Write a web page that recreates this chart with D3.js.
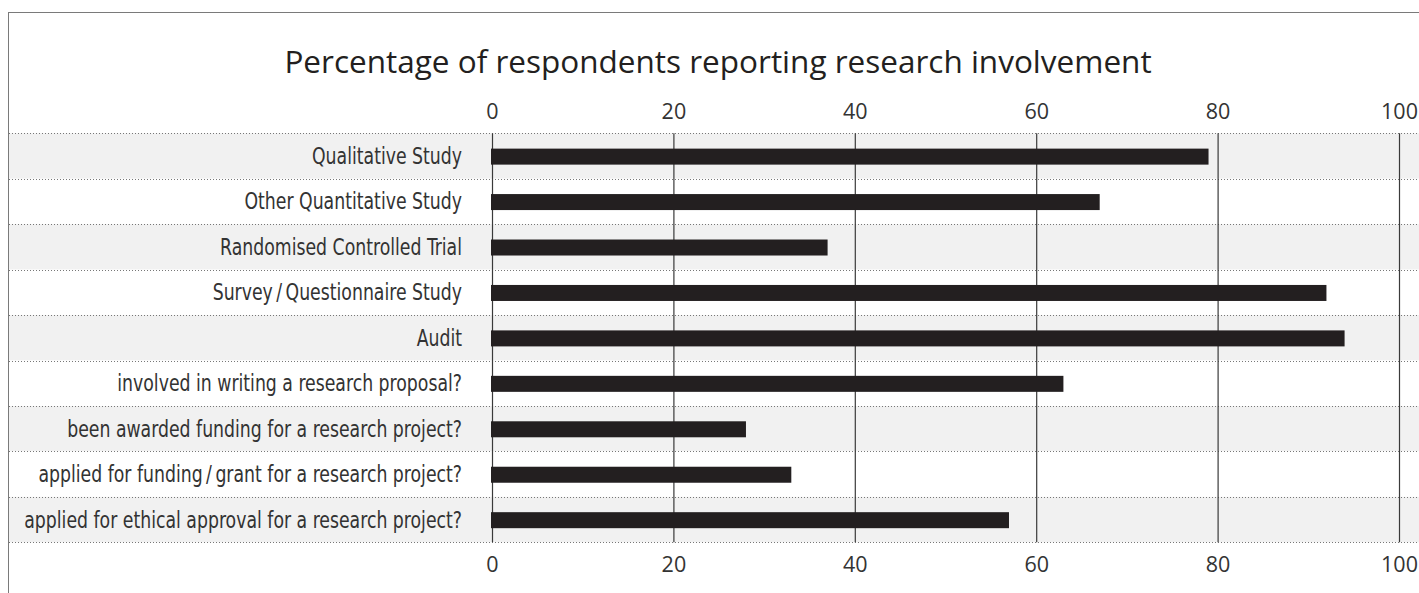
<!DOCTYPE html>
<html>
<head>
<meta charset="utf-8">
<script src="https://cdn.jsdelivr.net/npm/d3@7"></script>
<style>
  html, body { margin: 0; padding: 0; background: #ffffff; }
  svg { display: block; }
</style>
</head>
<body>
<svg id="chart" width="1419" height="593"></svg>
<script>
// Research involvement categories, top to bottom
const categories = [
  "Qualitative Study",
  "Other Quantitative Study",
  "Randomised Controlled Trial",
  "Survey\u2009/\u2009Questionnaire Study",
  "Audit",
  "involved in writing a research proposal?",
  "been awarded funding for a research project?",
  "applied for funding\u2009/\u2009grant for a research project?",
  "applied for ethical approval for a research project?"
];

// Percentage of respondents for each category
const percentages = [79, 67, 37, 92, 94, 63, 28, 33, 57];

// Axis tick values
const tickValues = [0, 20, 40, 60, 80, 100];

const titleText = "Percentage of respondents reporting research involvement";

const W = 1419, H = 593;
const frame = { left: 8, top: 12 };
const plot = { left: 492, right: 1399, top: 133.3, bottom: 542.3 };
const labelGap = 30;           // space between label end and the zero line
const longestLabelWidth = 438; // width the widest category label occupies

const ink = "#231f20";
const svg = d3.select("#chart");

// Outer frame
svg.append("rect")
  .attr("x", frame.left + 0.5).attr("y", frame.top + 0.5)
  .attr("width", W + 20).attr("height", H + 20)
  .attr("fill", "none").attr("stroke", "#7a7a7a").attr("stroke-width", 1);

const x = d3.scaleLinear().domain([0, 100]).range([plot.left, plot.right]);
const y = d3.scaleBand().domain(categories).range([plot.top, plot.bottom]).padding(0);

// Alternating row bands
svg.append("g").selectAll("rect")
  .data(categories)
  .join("rect")
  .attr("x", frame.left + 1)
  .attr("y", d => y(d))
  .attr("width", W - frame.left)
  .attr("height", y.bandwidth())
  .attr("fill", (d, i) => i % 2 === 0 ? "#f1f1f1" : "#ffffff");

// Dotted row separators
const edges = categories.map(d => y(d)).concat([plot.bottom]);
svg.append("g").selectAll("line")
  .data(edges)
  .join("line")
  .attr("x1", frame.left + 1).attr("x2", W)
  .attr("y1", d => Math.round(d) + 0.5).attr("y2", d => Math.round(d) + 0.5)
  .attr("stroke", "#777").attr("stroke-width", 1)
  .attr("stroke-dasharray", "1,2");

// Vertical gridlines
const grid = svg.append("g")
  .attr("transform", `translate(0,${plot.bottom})`)
  .call(d3.axisBottom(x).tickValues(tickValues)
    .tickSize(-(plot.bottom - plot.top)).tickFormat(""));
grid.select(".domain").remove();
grid.selectAll(".tick line").attr("stroke", "#3a3a3a").attr("stroke-width", 1.2);

// Bars
const barH = 16;
svg.append("g").selectAll("rect")
  .data(percentages)
  .join("rect")
  .attr("x", x(0) - 1)
  .attr("y", (d, i) => y(categories[i]) + y.bandwidth() / 2 - barH / 2 + 0.6)
  .attr("width", d => x(d) - x(0) + 1)
  .attr("height", barH)
  .attr("fill", ink);

// Category labels, set in a condensed face and narrowed to fit the label column
const labels = svg.append("g").selectAll("text")
  .data(categories)
  .join("text")
  .attr("text-anchor", "end")
  .attr("fill", "#333")
  .style("font-family", "'DejaVu Sans', sans-serif")
  .style("font-stretch", "condensed")
  .style("font-size", "23px")
  .text(d => d);
let widest = 0;
labels.each(function () { widest = Math.max(widest, this.getComputedTextLength()); });
const squeeze = Math.min(1, longestLabelWidth / widest);
labels.attr("transform", d =>
  `translate(${plot.left - labelGap},${y(d) + y.bandwidth() / 2 + 8}) scale(${squeeze},1)`);

// Top and bottom tick labels
function styleTicks(g) {
  g.select(".domain").remove();
  g.selectAll("text")
    .attr("fill", "#333")
    .style("font-family", "'Open Sans', sans-serif")
    .style("font-size", "21.5px");
}
svg.append("g")
  .attr("transform", `translate(0,${plot.top})`)
  .call(d3.axisTop(x).tickValues(tickValues).tickSize(0).tickPadding(14))
  .call(styleTicks);
svg.append("g")
  .attr("transform", `translate(0,${plot.bottom})`)
  .call(d3.axisBottom(x).tickValues(tickValues).tickSize(0).tickPadding(14))
  .call(styleTicks);

// Title
svg.append("text")
  .attr("x", 718).attr("y", 73)
  .attr("text-anchor", "middle")
  .attr("fill", ink)
  .style("font-family", "'Open Sans', sans-serif")
  .style("font-size", "31.5px")
  .text(titleText);
</script>
</body>
</html>
